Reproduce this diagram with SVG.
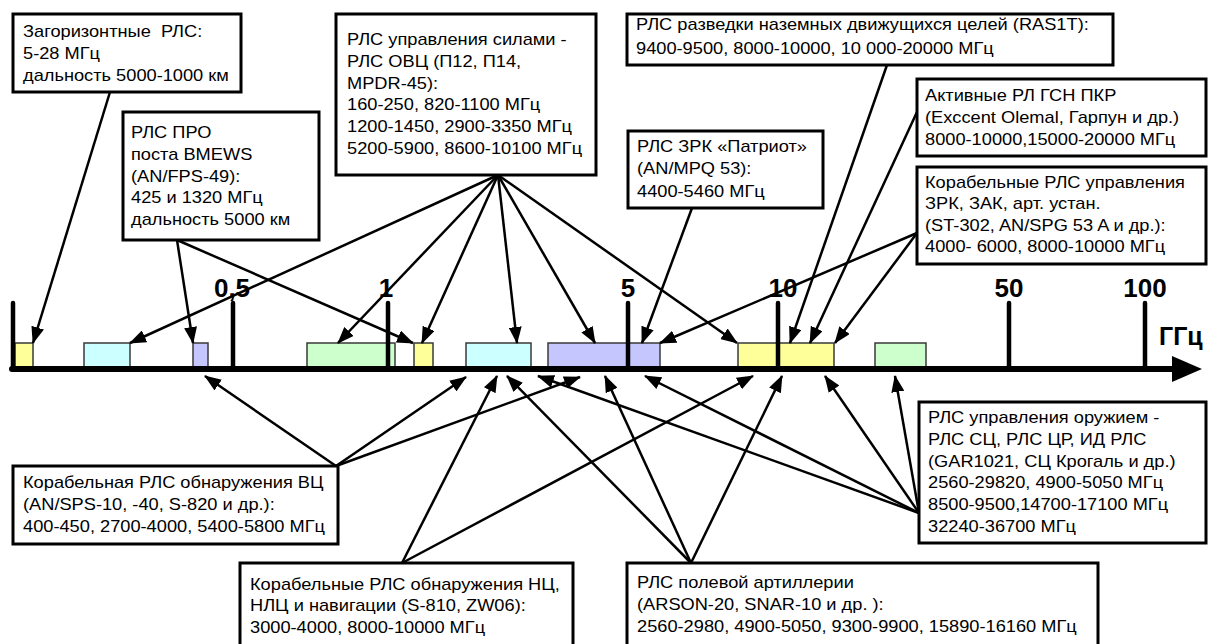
<svg xmlns="http://www.w3.org/2000/svg" width="1208" height="644" viewBox="0 0 1208 644">
  <style>
    .box { fill: #ffffff; stroke: #000000; stroke-width: 3; }
    .t { font-family: "Liberation Sans", Arial, sans-serif; font-size: 16px; fill: #000000; white-space: pre; }
    .lbl { font-family: "Liberation Sans", Arial, sans-serif; font-size: 26px; font-weight: bold; fill: #000000; text-anchor: middle; }
    .unit { font-family: "Liberation Sans", Arial, sans-serif; font-size: 25px; font-weight: bold; fill: #000000; }
    .tick { stroke: #000000; stroke-width: 4.5; stroke-linecap: round; }
    .bar { stroke: #3a3a3a; stroke-width: 1.5; }
    .y { fill: #FFFF99; }
    .c { fill: #CCFFFF; }
    .v { fill: #C6C6FF; }
    .g { fill: #CCFFCC; }
    .conn line { stroke: #000000; stroke-width: 2.5; marker-end: url(#ah); }
  </style>
  <defs>
    <marker id="ah" markerUnits="userSpaceOnUse" markerWidth="17" markerHeight="13" viewBox="0 0 17 13" refX="16" refY="6.5" orient="auto">
      <path d="M0,0 L17,6.5 L0,13 z" fill="#000000"/>
    </marker>
  </defs>

  <rect width="1208" height="644" fill="#ffffff"/>

  <!-- frequency bands -->
  <g id="bands">
    <rect class="bar y" x="15" y="343" width="18" height="24"/>
    <rect class="bar c" x="84" y="343" width="46" height="24"/>
    <rect class="bar v" x="193" y="343" width="15" height="24"/>
    <rect class="bar g" x="307" y="343" width="88" height="24"/>
    <rect class="bar y" x="414" y="343" width="19" height="24"/>
    <rect class="bar c" x="466" y="343" width="65" height="24"/>
    <rect class="bar v" x="548" y="343" width="112" height="24"/>
    <rect class="bar y" x="738" y="343" width="96" height="24"/>
    <rect class="bar g" x="875" y="343" width="51" height="24"/>
  </g>

  <!-- frequency axis, GHz -->
  <g id="axis">
    <line class="tick" x1="13" y1="303" x2="13" y2="369"/>
    <line class="tick" x1="233" y1="303" x2="233" y2="369"/>
    <line class="tick" x1="388" y1="303" x2="388" y2="369"/>
    <line class="tick" x1="628" y1="303" x2="628" y2="369"/>
    <line class="tick" x1="778" y1="303" x2="778" y2="369"/>
    <line class="tick" x1="1009" y1="303" x2="1009" y2="369"/>
    <line class="tick" x1="1145" y1="303" x2="1145" y2="369"/>
    <line x1="12" y1="369" x2="1176" y2="369" stroke="#000000" stroke-width="6" stroke-linecap="round"/>
    <polygon points="1172,356 1202,369 1172,382" fill="#000000"/>
    <text class="lbl" x="232" y="297">0,5</text>
    <text class="lbl" x="386" y="297">1</text>
    <text class="lbl" x="628" y="297">5</text>
    <text class="lbl" x="783" y="297">10</text>
    <text class="lbl" x="1009" y="297">50</text>
    <text class="lbl" x="1145" y="297">100</text>
    <text class="unit" x="1159" y="345">ГГц</text>
  </g>

  <!-- connectors from the radar boxes to the bands -->
  <g id="connectors" class="conn">
    <line x1="110" y1="92" x2="33" y2="343"/>
    <line x1="177" y1="240" x2="193" y2="343"/>
    <line x1="177" y1="240" x2="413" y2="343"/>
    <line x1="498" y1="175" x2="130" y2="343"/>
    <line x1="498" y1="175" x2="338" y2="343"/>
    <line x1="498" y1="175" x2="422" y2="343"/>
    <line x1="498" y1="175" x2="517" y2="343"/>
    <line x1="498" y1="175" x2="595" y2="343"/>
    <line x1="498" y1="175" x2="737" y2="343"/>
    <line x1="692" y1="208" x2="642" y2="343"/>
    <line x1="887" y1="65" x2="790" y2="343"/>
    <line x1="917" y1="112" x2="810" y2="343"/>
    <line x1="917" y1="233" x2="835" y2="343"/>
    <line x1="917" y1="233" x2="660" y2="343"/>
    <line x1="336" y1="466" x2="205" y2="376"/>
    <line x1="336" y1="466" x2="466" y2="377"/>
    <line x1="336" y1="466" x2="580" y2="377"/>
    <line x1="402" y1="563" x2="497" y2="376"/>
    <line x1="402" y1="563" x2="753" y2="376"/>
    <line x1="691" y1="563" x2="507" y2="376"/>
    <line x1="691" y1="563" x2="605" y2="376"/>
    <line x1="691" y1="563" x2="782" y2="376"/>
    <line x1="919" y1="513" x2="538" y2="376"/>
    <line x1="919" y1="513" x2="645" y2="376"/>
    <line x1="919" y1="513" x2="825" y2="376"/>
    <line x1="919" y1="513" x2="895" y2="376"/>
  </g>

  <g id="over-horizon">
    <rect class="box" x="13" y="14" width="228" height="78"/>
    <text class="t" transform="translate(23,37) scale(1.14,1)"><tspan x="0" y="0">Загоризонтные  РЛС:</tspan><tspan x="0" y="22">5-28 МГц</tspan><tspan x="0" y="44">дальность 5000-1000 км</tspan></text>
  </g>

  <g id="bmews">
    <rect class="box" x="123" y="112" width="196" height="128"/>
    <text class="t" transform="translate(131,138) scale(1.14,1)"><tspan x="0" y="0">РЛС ПРО</tspan><tspan x="0" y="21.8">поста BMEWS</tspan><tspan x="0" y="43.6">(AN/FPS-49):</tspan><tspan x="0" y="65.4">425 и 1320 МГц</tspan><tspan x="0" y="87.2">дальность 5000 км</tspan></text>
  </g>

  <g id="force-control">
    <rect class="box" x="336" y="14" width="260" height="161"/>
    <text class="t" transform="translate(347,45) scale(1.14,1)"><tspan x="0" y="0">РЛС управления силами -</tspan><tspan x="0" y="21.8">РЛС ОВЦ (П12, П14,</tspan><tspan x="0" y="43.6">MPDR-45):</tspan><tspan x="0" y="65.4">160-250, 820-1100 МГц</tspan><tspan x="0" y="87.2">1200-1450, 2900-3350 МГц</tspan><tspan x="0" y="109">5200-5900, 8600-10100 МГц</tspan></text>
  </g>

  <g id="ground-targets">
    <rect class="box" x="627" y="14" width="486" height="51"/>
    <text class="t" transform="translate(636,30) scale(1.14,1)"><tspan x="0" y="0">РЛС разведки наземных движущихся целей (RAS1T):</tspan><tspan x="0" y="24">9400-9500, 8000-10000, 10 000-20000 МГц</tspan></text>
  </g>

  <g id="seeker">
    <rect class="box" x="917" y="79" width="289" height="77"/>
    <text class="t" transform="translate(925,101) scale(1.14,1)"><tspan x="0" y="0">Активные РЛ ГСН ПКР</tspan><tspan x="0" y="22">(Exccent Olemal, Гарпун и др.)</tspan><tspan x="0" y="44">8000-10000,15000-20000 МГц</tspan></text>
  </g>

  <g id="patriot">
    <rect class="box" x="628" y="131" width="195" height="77"/>
    <text class="t" transform="translate(637,152) scale(1.14,1)"><tspan x="0" y="0">РЛС ЗРК «Патриот»</tspan><tspan x="0" y="22.5">(AN/MPQ 53):</tspan><tspan x="0" y="45">4400-5460 МГц</tspan></text>
  </g>

  <g id="ship-fire-control">
    <rect class="box" x="917" y="167" width="289" height="97"/>
    <text class="t" transform="translate(925,188) scale(1.14,1)"><tspan x="0" y="0">Корабельные РЛС управления</tspan><tspan x="0" y="21.3">ЗРК, ЗАК, арт. устан.</tspan><tspan x="0" y="42.6">(ST-302, AN/SPG 53 A и др.):</tspan><tspan x="0" y="63.9">4000- 6000, 8000-10000 МГц</tspan></text>
  </g>

  <g id="ship-air-search">
    <rect class="box" x="13" y="466" width="325" height="78"/>
    <text class="t" transform="translate(23,488) scale(1.14,1)"><tspan x="0" y="0">Корабельная РЛС обнаружения ВЦ</tspan><tspan x="0" y="22">(AN/SPS-10, -40, S-820 и др.):</tspan><tspan x="0" y="44">400-450, 2700-4000, 5400-5800 МГц</tspan></text>
  </g>

  <g id="ship-surface-search">
    <rect class="box" x="240" y="563" width="333" height="100"/>
    <text class="t" transform="translate(250,590) scale(1.14,1)"><tspan x="0" y="0">Корабельные РЛС обнаружения НЦ,</tspan><tspan x="0" y="21.5">НЛЦ и навигации (S-810, ZW06):</tspan><tspan x="0" y="43">3000-4000, 8000-10000 МГц</tspan></text>
  </g>

  <g id="field-artillery">
    <rect class="box" x="627" y="563" width="471" height="100"/>
    <text class="t" transform="translate(637,588) scale(1.14,1)"><tspan x="0" y="0">РЛС полевой артиллерии</tspan><tspan x="0" y="22">(ARSON-20, SNAR-10 и др. ):</tspan><tspan x="0" y="44">2560-2980, 4900-5050, 9300-9900, 15890-16160 МГц</tspan></text>
  </g>

  <g id="weapon-control">
    <rect class="box" x="919" y="402" width="287" height="141"/>
    <text class="t" transform="translate(928,423) scale(1.14,1)"><tspan x="0" y="0">РЛС управления оружием -</tspan><tspan x="0" y="21.8">РЛС СЦ, РЛС ЦР, ИД РЛС</tspan><tspan x="0" y="43.6">(GAR1021, СЦ Крогаль и др.)</tspan><tspan x="0" y="65.4">2560-29820, 4900-5050 МГц</tspan><tspan x="0" y="87.2">8500-9500,14700-17100 МГц</tspan><tspan x="0" y="109">32240-36700 МГц</tspan></text>
  </g>
</svg>
